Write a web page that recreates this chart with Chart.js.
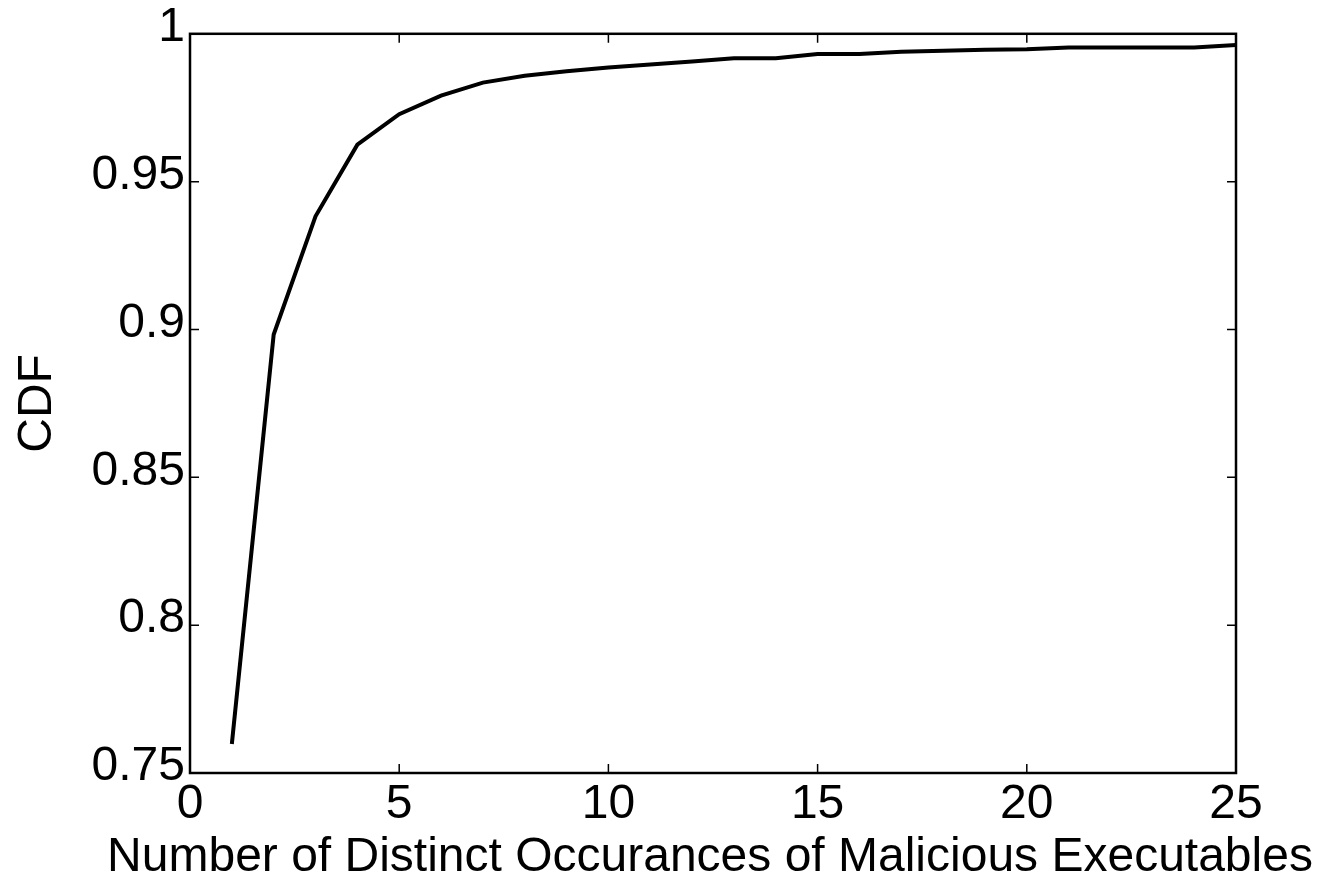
<!DOCTYPE html>
<html>
<head>
<meta charset="utf-8">
<script src="https://cdn.jsdelivr.net/npm/chart.js@4.4.1/dist/chart.umd.min.js"></script>
<style>
  html, body { margin: 0; padding: 0; background: #fff; }
  #wrap { width: 1323px; height: 877px; }
</style>
</head>
<body>
<div id="wrap"><canvas id="cdfChart" width="1323" height="877"></canvas></div>
<script>
// values
var occurrences = [1, 2, 3, 4, 5, 6, 7, 8, 9, 10, 11, 12, 13, 14, 15, 16, 17, 18, 19, 20, 21, 22, 23, 24, 25];
var cdfValues = [0.7598, 0.8983, 0.9383, 0.9625, 0.9728, 0.9791, 0.9835, 0.9858, 0.9873, 0.9886,
  0.9896, 0.9906, 0.9917, 0.9917, 0.9932, 0.9932, 0.9939, 0.9943, 0.9946, 0.9948,
  0.9954, 0.9954, 0.9954, 0.9954, 0.9962];
var xTicks = [0, 5, 10, 15, 20, 25];
var yTicks = [0.75, 0.8, 0.85, 0.9, 0.95, 1];
var yTickLabels = ['0.75', '0.8', '0.85', '0.9', '0.95', '1'];
var xTitle = 'Number of Distinct Occurances of Malicious Executables';

var FONT = "'Liberation Sans', Arial, Helvetica, sans-serif";

// matplotlib style box with inward ticks on all four sides
var boxPlugin = {
  id: 'box',
  afterDraw: function (chart) {
    var ctx = chart.ctx, a = chart.chartArea;
    var xs = chart.scales.x, ys = chart.scales.y;
    ctx.save();
    ctx.strokeStyle = '#000';
    ctx.lineWidth = 1.5;
    ctx.beginPath();
    xTicks.forEach(function (v) {
      var px = xs.getPixelForValue(v);
      ctx.moveTo(px, a.bottom); ctx.lineTo(px, a.bottom - 9);
      ctx.moveTo(px, a.top); ctx.lineTo(px, a.top + 9);
    });
    yTicks.forEach(function (v) {
      var py = ys.getPixelForValue(v);
      ctx.moveTo(a.left, py); ctx.lineTo(a.left + 9, py);
      ctx.moveTo(a.right, py); ctx.lineTo(a.right - 9, py);
    });
    ctx.stroke();
    ctx.lineWidth = 2.5;
    ctx.strokeRect(a.left, a.top, a.right - a.left, a.bottom - a.top);

    // x label is wider than the plot box, so it is drawn here
    // (the scale title would squeeze it to the box width)
    ctx.fillStyle = '#000';
    ctx.font = '48px ' + FONT;
    ctx.textAlign = 'center';
    ctx.textBaseline = 'alphabetic';
    ctx.fillText(xTitle, 710, 871);
    ctx.restore();
  }
};

var ctx = document.getElementById('cdfChart').getContext('2d');
var cdfChart = new Chart(ctx, {
  type: 'line',
  data: {
    datasets: [{
      label: 'CDF',
      data: occurrences.map(function (x, i) { return { x: x, y: cdfValues[i] }; }),
      borderColor: '#000',
      backgroundColor: '#000',
      borderWidth: 4,
      pointRadius: 0,
      tension: 0,
      fill: false
    }]
  },
  options: {
    responsive: false,
    animation: false,
    layout: { padding: { top: 32, right: 87, left: 0, bottom: 0 } },
    plugins: { legend: { display: false }, tooltip: { enabled: false } },
    scales: {
      x: {
        type: 'linear',
        min: 0,
        max: 25,
        grid: { display: false, drawTicks: false },
        border: { display: false },
        afterFit: function (scale) { scale.height = 104; },
        afterBuildTicks: function (scale) {
          scale.ticks = xTicks.map(function (v) { return { value: v }; });
        },
        ticks: {
          color: '#000',
          padding: 3,
          maxRotation: 0,
          font: { family: FONT, size: 48 },
          callback: function (v) { return String(v); }
        },
        title: { display: false }
      },
      y: {
        type: 'linear',
        min: 0.75,
        max: 1,
        grid: { display: false, drawTicks: false },
        border: { display: false },
        afterFit: function (scale) { scale.width = 190; },
        afterBuildTicks: function (scale) {
          scale.ticks = yTicks.map(function (v) { return { value: v }; });
        },
        ticks: {
          color: '#000',
          padding: 5,
          labelOffset: -6,
          font: { family: FONT, size: 48 },
          callback: function (v) {
            var i = yTicks.findIndex(function (t) { return Math.abs(t - v) < 1e-9; });
            return i >= 0 ? yTickLabels[i] : '';
          }
        },
        title: {
          display: true,
          text: 'CDF',
          color: '#000',
          font: { family: FONT, size: 48, lineHeight: 1.2 },
          padding: { top: 9, bottom: 0 }
        }
      }
    }
  },
  plugins: [boxPlugin]
});
</script>
</body>
</html>
